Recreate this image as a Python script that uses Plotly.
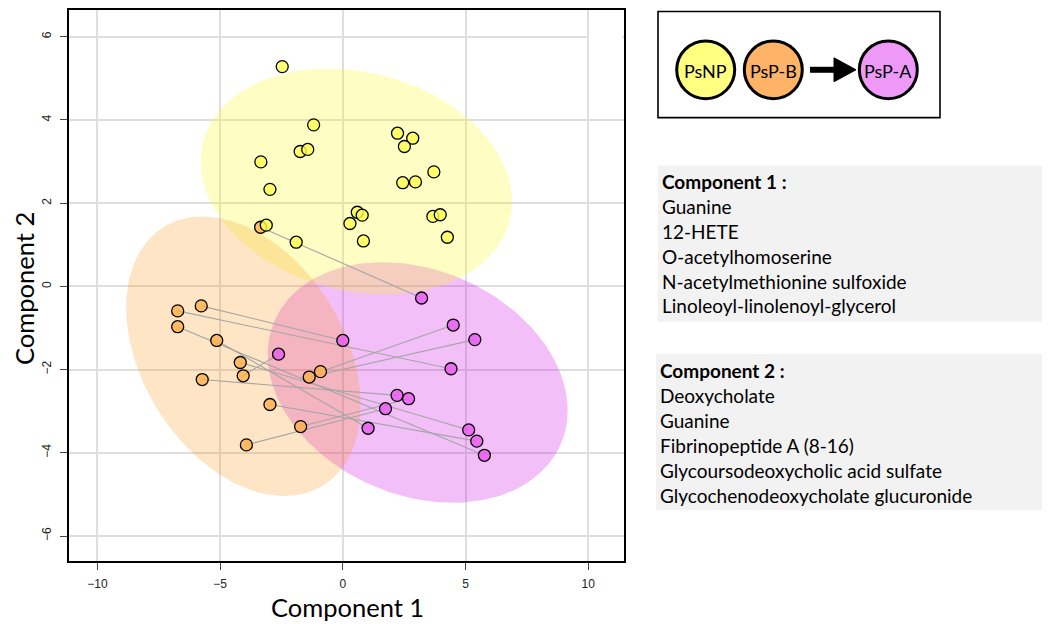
import numpy as np
import plotly.graph_objects as go

# ---------------- data ----------------
psnp_x = [-2.47, -1.19, -1.74, -1.43, -3.34, -2.97, -3.12, -1.90, 2.23, 2.85, 2.51,
          3.71, 2.44, 2.96, 0.59, 0.79, 0.29, 0.84, 3.67, 3.97, 4.26]
psnp_y = [5.28, 3.88, 3.24, 3.29, 2.99, 2.33, 1.47, 1.06, 3.68, 3.56, 3.36,
          2.75, 2.49, 2.51, 1.78, 1.71, 1.51, 1.09, 1.68, 1.72, 1.18]

# PsP-B (before) and PsP-A (after), paired by index
pspb_x = [-3.35, -5.77, -6.73, -6.73, -5.14, -4.18, -4.06, -5.73, -2.97, -1.72, -3.93, -1.37, -0.91]
pspb_y = [1.42, -0.47, -0.59, -0.97, -1.30, -1.83, -2.15, -2.24, -2.84, -3.37, -3.81, -2.18, -2.05]
pspa_x = [3.21, 0.00, 4.41, 5.77, 1.03, 5.13, -2.62, 2.21, 5.46, 2.68, 1.74, 5.38, 4.50]
pspa_y = [-0.28, -1.30, -1.98, -4.06, -3.41, -3.45, -1.63, -2.62, -3.72, -2.70, -2.94, -1.28, -0.93]

# confidence ellipses (centre, semi-axes, rotation in degrees)
ell_names = ["PsP-A", "PsNP", "PsP-B"]
ell_cx = [3.05, 0.55, -4.05]
ell_cy = [-2.31, 2.52, -1.68]
ell_a = [6.16, 6.37, 5.01]
ell_b = [2.79, 2.66, 3.00]
ell_ang = [-7.9, -5.3, -22.05]
ell_fill = ["rgba(207,0,227,0.25)", "rgba(251,251,19,0.25)", "rgba(247,151,23,0.25)"]

x_ticks = [-10, -5, 0, 5, 10]
y_ticks = [-6, -4, -2, 0, 2, 4, 6]

comp1_title = "Component 1 :"
comp1_items = ["Guanine", "12-HETE", "O-acetylhomoserine",
               "N-acetylmethionine sulfoxide", "Linoleoyl-linolenoyl-glycerol"]
comp2_title = "Component 2 :"
comp2_items = ["Deoxycholate", "Guanine", "Fibrinopeptide A (8-16)",
               "Glycoursodeoxycholic acid sulfate", "Glycochenodeoxycholate glucuronide"]

legend_labels = ["PsNP", "PsP-B", "PsP-A"]
legend_fills = ["#FFFF80", "#FFB366", "#EE99F8"]

# ---------------- layout geometry ----------------
# page has an 8px body margin; figure pixel = page pixel - 8
W, H = 1042, 616
ML, MR, MT, MB = 61, 426, 0, 63
PW = W - ML - MR          # 555
PH = H - MT - MB          # 553


def PX(xpage):
    return (xpage - 8 - ML) / PW


def PY(ypage):
    return (MT + PH - (ypage - 8)) / PH


fig = go.Figure()

# ellipses
t = np.linspace(0, 2 * np.pi, 200)
for cx, cy, a, b, ang, col, nm in zip(ell_cx, ell_cy, ell_a, ell_b, ell_ang, ell_fill, ell_names):
    th = np.deg2rad(ang)
    ex = cx + a * np.cos(th) * np.cos(t) - b * np.sin(th) * np.sin(t)
    ey = cy + a * np.sin(th) * np.cos(t) + b * np.cos(th) * np.sin(t)
    fig.add_trace(go.Scatter(x=ex, y=ey, mode="lines", fill="toself", fillcolor=col,
                             line=dict(width=0, color="rgba(0,0,0,0)"), hoverinfo="skip",
                             showlegend=False, name=nm))

# pair lines
lx, ly = [], []
for xb, yb, xa, ya in zip(pspb_x, pspb_y, pspa_x, pspa_y):
    lx += [xb, xa, None]
    ly += [yb, ya, None]
fig.add_trace(go.Scatter(x=lx, y=ly, mode="lines", line=dict(color="rgb(165,165,165)", width=1.1),
                         hoverinfo="skip", showlegend=False))

mk_line = dict(color="black", width=1.3)
fig.add_trace(go.Scatter(x=pspb_x, y=pspb_y, mode="markers", name="PsP-B",
                         marker=dict(size=12, color="rgba(255,176,75,0.8)", line=mk_line), showlegend=False))
fig.add_trace(go.Scatter(x=psnp_x, y=psnp_y, mode="markers", name="PsNP",
                         marker=dict(size=12, color="rgba(255,255,80,0.8)", line=mk_line), showlegend=False))
fig.add_trace(go.Scatter(x=pspa_x, y=pspa_y, mode="markers", name="PsP-A",
                         marker=dict(size=12, color="rgba(232,90,240,0.8)", line=mk_line), showlegend=False))

shapes = []
annotations = []

# white artefact at top-right corner of the plot
shapes.append(dict(type="rect", xref="paper", yref="paper", layer="above",
                   x0=PX(589), x1=PX(622.5), y0=PY(75), y1=PY(9.5),
                   fillcolor="white", line=dict(width=0)))

# legend box
shapes.append(dict(type="rect", xref="paper", yref="paper",
                   x0=PX(658), x1=PX(940), y0=PY(116), y1=PY(9.5),
                   fillcolor="white", line=dict(color="black", width=1.6)))
leg_cx = [705.7, 773.3, 888.3]
leg_cy = 68
rad = 29
for cx, fc, lab in zip(leg_cx, legend_fills, legend_labels):
    shapes.append(dict(type="circle", xref="paper", yref="paper",
                       x0=PX(cx - rad), x1=PX(cx + rad), y0=PY(leg_cy + rad), y1=PY(leg_cy - rad),
                       fillcolor=fc, line=dict(color="black", width=3)))
    annotations.append(dict(xref="paper", yref="paper", x=PX(cx), y=PY(leg_cy + 1), text=lab,
                            showarrow=False, xanchor="center", yanchor="middle",
                            font=dict(family="Lato", size=18, color="black")))
# arrow
shapes.append(dict(type="line", xref="paper", yref="paper", x0=PX(810), x1=PX(838),
                   y0=PY(68), y1=PY(68), line=dict(color="black", width=6)))
shapes.append(dict(type="path", xref="paper", yref="paper",
                   path="M {} {} L {} {} L {} {} Z".format(PX(834), PY(56), PX(856), PY(68), PX(834), PY(80)),
                   fillcolor="black", line=dict(color="black", width=1)))

# text boxes
shapes.append(dict(type="rect", xref="paper", yref="paper", x0=PX(658), x1=PX(1043),
                   y0=PY(321), y1=PY(164), fillcolor="#F2F2F2", line=dict(width=0)))
shapes.append(dict(type="rect", xref="paper", yref="paper", x0=PX(656), x1=PX(1043),
                   y0=PY(510), y1=PY(353), fillcolor="#F2F2F2", line=dict(width=0)))


def add_block(x0, y0, title, items):
    lines = ["<b>" + title + "</b>"] + items
    for i, s in enumerate(lines):
        annotations.append(dict(xref="paper", yref="paper", x=PX(x0), y=PY(y0 + 25 * i), text=s,
                                showarrow=False, xanchor="left", yanchor="middle",
                                font=dict(family="Lato", size=19, color="black")))


add_block(660, 180, comp1_title, comp1_items)
add_block(658, 370, comp2_title, comp2_items)

# axis titles
annotations.append(dict(xref="paper", yref="paper", x=PX(347), y=PY(607), text="Component 1",
                        showarrow=False, xanchor="center", yanchor="middle",
                        font=dict(family="Lato", size=25.5, color="black")))
annotations.append(dict(xref="paper", yref="paper", x=PX(24), y=PY(288), text="Component 2",
                        showarrow=False, xanchor="center", yanchor="middle", textangle=-90,
                        font=dict(family="Lato", size=25.5, color="black")))

axis_common = dict(showline=True, linecolor="black", linewidth=1.5, mirror=True,
                   showgrid=True, gridcolor="rgb(222,222,222)", gridwidth=1.5,
                   zeroline=False, ticks="outside", ticklen=7, tickcolor="#444", tickwidth=1,
                   tickfont=dict(family="Liberation Sans, Arial", size=12, color="#222"))

fig.update_layout(
    width=W, height=H,
    margin=dict(l=ML, r=MR, t=MT, b=MB, pad=0),
    paper_bgcolor="white", plot_bgcolor="white",
    xaxis=dict(range=[-11.16, 11.46], tickvals=x_ticks, ticklabelstandoff=4, **axis_common),
    yaxis=dict(range=[-6.60, 6.64], tickvals=y_ticks, tickangle=-90, ticklabelstandoff=4, **axis_common),
    shapes=shapes, annotations=annotations, showlegend=False,
)

fig.write_html("out.html")
